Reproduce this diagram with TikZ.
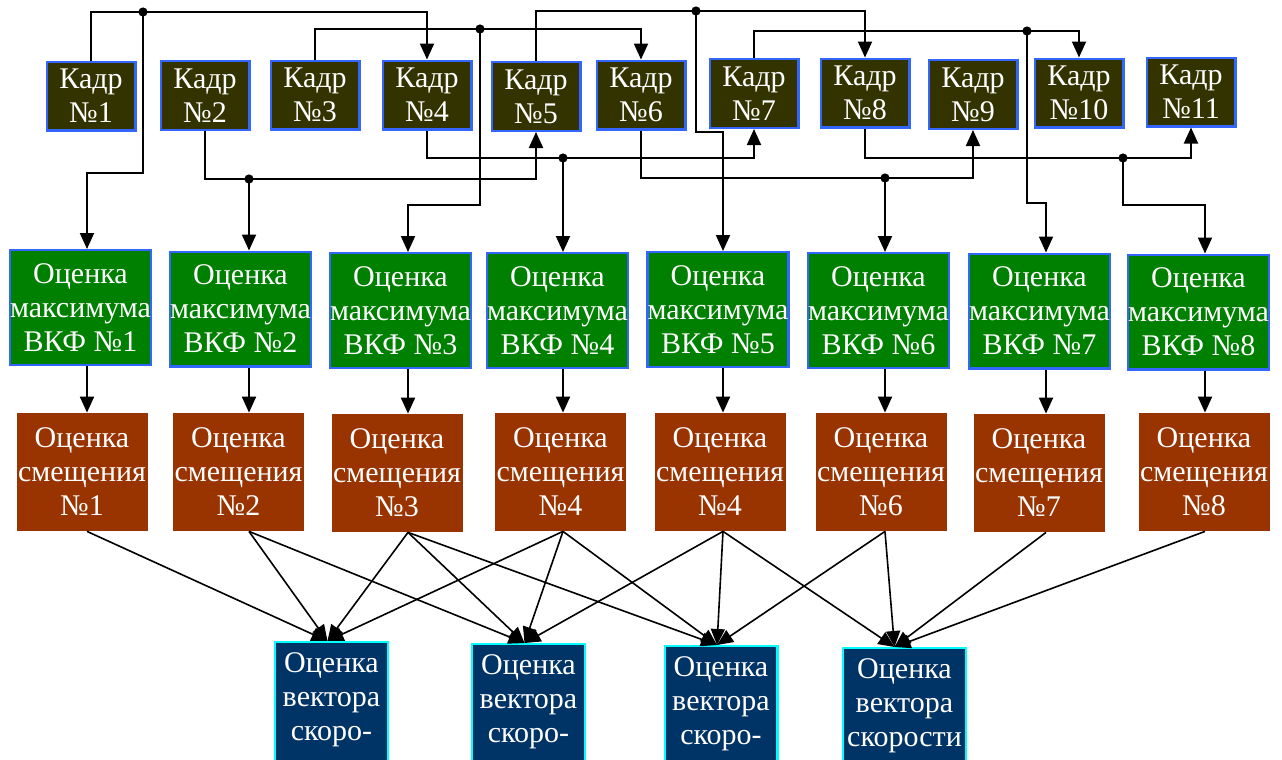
\documentclass[tikz,border=0pt]{standalone}
\usepackage{fontspec}
\setmainfont{Liberation Serif}
\usetikzlibrary{arrows.meta}
\definecolor{kadrfill}{HTML}{333300}
\definecolor{kadrline}{HTML}{3366FF}
\definecolor{vkffill}{HTML}{008000}
\definecolor{smfill}{HTML}{993300}
\definecolor{vecfill}{HTML}{003366}
\definecolor{vecline}{HTML}{00FFFF}

\begin{document}
\begin{tikzpicture}[x=0.5pt,y=-0.5pt,
    box/.style={align=center,text=white,inner sep=0pt,font=\fontsize{15}{17}\selectfont},
    kadr/.style={box,fill=kadrfill,draw=kadrline,line width=1.2pt,minimum width=44.3pt,minimum height=34.3pt},
    vkf/.style={box,fill=vkffill,draw=kadrline,line width=1.2pt,minimum width=70.3pt,minimum height=57.3pt},
    smesh/.style={box,fill=smfill,minimum width=65.5pt,minimum height=59pt},
    vect/.style={box,fill=vecfill,draw=vecline,line width=1.2pt,anchor=north,inner ysep=5pt,text depth=60pt},
    wire/.style={line width=1pt},
    arr/.style={wire,-{Triangle[length=8pt,width=7pt]}}]
    \useasboundingbox (0,0) rectangle (1282,760);
    \clip (0,0) rectangle (1282,760);

    % Frames
    \foreach \i/\x/\y in {1/91/96,2/205/95.5,3/315/95,4/427/95,5/536/96.5,6/641/95,
                          7/754/93.5,8/865/93,9/973/94.5,10/1079/93,11/1191/92}
        \node[kadr] (k\i) at (\x,\y) {Кадр\\№\i};

    % Columns of the estimators
    \foreach \i/\x in {1/87,2/249,3/408,4/563,5/723,6/885,7/1046,8/1205}
        \coordinate (c\i) at (\x,0);

    % Correlation maximum estimators
    \foreach \i/\x/\y in {1/80.5/307.5,2/240.5/309,3/400.5/310.5,4/557.5/310.5,
                          5/718/309.5,6/878.5/310.5,7/1039.5/311,8/1198.5/312}
        \node[vkf] (g\i) at (\x,\y) {Оценка\\максимума\\ВКФ №\i};

    % Shift estimators
    \foreach \i/\x/\y/\n in {1/82/472/1,2/238.5/472/2,3/397/473/3,4/560.5/472/4,
                             5/720/472/4,6/881/472/6,7/1039/473/7,8/1204/472/8}
        \node[smesh] (s\i) at (\x,\y) {Оценка\\смещения\\№\n};

    % Velocity vector estimators
    \node[vect,minimum width=56.3pt] (v1) at (331.5,641) {Оценка\\вектора\\скоро-};
    \node[vect,minimum width=56.3pt] (v2) at (528.5,643) {Оценка\\вектора\\скоро-};
    \node[vect,minimum width=56.3pt] (v3) at (721,645) {Оценка\\вектора\\скоро-};
    \node[vect,minimum width=61.3pt] (v4) at (904.5,647) {Оценка\\вектора\\скорости};
    \foreach \i/\d in {1/-2,2/-2,3/-2,4/-5}
        \coordinate (t\i) at ([xshift=\d pt]v\i.north);

    % Junctions
    \coordinate (j1) at (143,12);
    \coordinate (j3) at (480,29);
    \coordinate (j5) at (696,11);
    \coordinate (j7) at (1027,31);
    \coordinate (j2) at (249,179);
    \coordinate (j4) at (563,158);
    \coordinate (j6) at (885,178);
    \coordinate (j8) at (1123,158);

    % Frame pairs, above the row
    \draw[arr] (k1.north) |- (j1) -| (k4.north);
    \draw[arr] (k3.north) |- (j3) -| (k6.north);
    \draw[arr] (k5.north) |- (j5) -| (k8.north);
    \draw[arr] (k7.north) |- (j7) -| (k10.north);
    % Frame pairs, below the row
    \draw[arr] (k2.south) |- (j2) -| (k5.south);
    \draw[arr] (k4.south) |- (j4) -| (k7.south);
    \draw[arr] (k6.south) |- (j6) -| (k9.south);
    \draw[arr] (k8.south) |- (j8) -| (k11.south);

    % Pairs into the estimators
    \draw[arr] (j1) -- ++(0,161) -| (g1.north -| c1);
    \draw[arr] (j2) -- (g2.north -| c2);
    \draw[arr] (j3) -- ++(0,176) -| (g3.north -| c3);
    \draw[arr] (j4) -- (g4.north -| c4);
    \draw[arr] (j5) -- ++(0,121) -| (g5.north -| c5);
    \draw[arr] (j6) -- (g6.north -| c6);
    \draw[arr] (j7) -- ++(0,172) -| (g7.north -| c7);
    \draw[arr] (j8) -- ++(0,47) -| (g8.north -| c8);
    \foreach \j in {1,...,8}
        \fill (j\j) circle (2.3pt);

    \foreach \i in {1,...,8}
        \draw[arr] (g\i.south -| c\i) -- (s\i.north -| c\i);

    % Shifts into the velocity estimates
    \foreach \s/\t in {1/1,2/1,3/1,4/1,2/2,3/2,4/2,5/2,3/3,4/3,5/3,6/3,5/4,6/4,7/4,8/4}
        \draw[arr,line width=0.8pt] (s\s.south -| c\s) -- (t\t);
\end{tikzpicture}
\end{document}
